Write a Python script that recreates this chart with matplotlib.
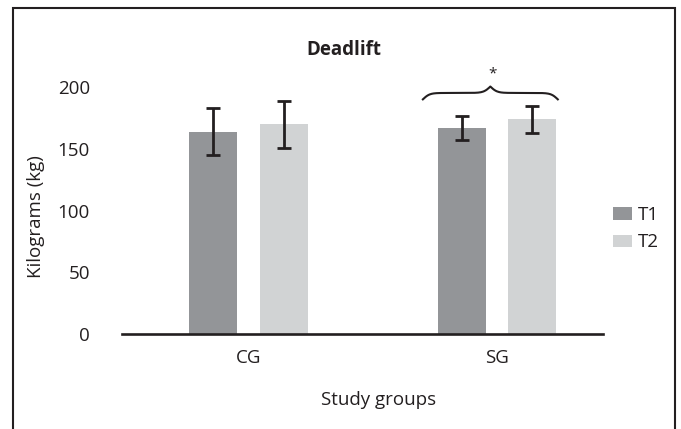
import numpy as np
import matplotlib
matplotlib.use("Agg")
import matplotlib.pyplot as plt
from matplotlib.patches import Rectangle

plt.rcParams['font.family'] = ['Open Sans', 'DejaVu Sans']

groups = ['CG', 'SG']
series = ['T1', 'T2']
t1_mean = [164, 167]
t1_err = [19, 10]
t2_mean = [170, 174]
t2_err = [19, 11]
colors = ['#939598', '#d1d3d4']
ink = '#231f20'

fig = plt.figure(figsize=(6.81, 4.29), dpi=100)
ax = fig.add_axes([0.1791, 0.2214, 0.7064, 0.6327])

x = np.arange(len(groups))
w = 0.193
off = 0.142
ekw = dict(ecolor=ink, elinewidth=2, capsize=5, capthick=2)
ax.bar(x - off, t1_mean, w, yerr=t1_err, color=colors[0], label=series[0], error_kw=ekw)
ax.bar(x + off, t2_mean, w, yerr=t2_err, color=colors[1], label=series[1], error_kw=ekw)

ax.set_xlim(-0.509, 1.427)
ax.set_ylim(0, 220)
ax.set_yticks([0, 50, 100, 150, 200])
ax.set_xticks(x)
ax.set_xticklabels(groups)
ax.tick_params(axis='both', length=0, labelsize=13.5, colors='#231f20')
ax.tick_params(axis='y', pad=23)
ax.tick_params(axis='x', pad=11)
for s in ['top', 'right', 'left']:
    ax.spines[s].set_visible(False)
ax.spines['bottom'].set_linewidth(1.9)
ax.spines['bottom'].set_color(ink)

ax.set_ylabel('Kilograms (kg)', fontsize=13.5, color=ink)
ax.yaxis.set_label_coords(-0.16, 0.433)
fig.text(379 / 681, 1 - 400 / 429, 'Study groups', ha='center', va='center',
         fontsize=13.5, color=ink)
fig.text(343.5 / 681, 1 - 50 / 429, 'Deadlift', ha='center', va='center',
         fontsize=13.5, fontweight='bold', color=ink)

# curly brace over SG
bl, br, by, bh = 0.702, 1.245, 190.2, 10.4
t = np.linspace(0, 1, 201)
half = t[:101]
beta = 40
yh = 1 / (1 + np.exp(-beta * (half - half[0]))) + 1 / (1 + np.exp(-beta * (half - half[-1])))
yy = np.concatenate([yh, yh[-2::-1]])
yy = (yy - yy.min()) / (yy.max() - yy.min())
ax.plot(bl + t * (br - bl), by + yy * bh, color=ink, lw=1.5, clip_on=False)
ax.text(0.982, 210.5, '*', ha='center', va='center', fontsize=11, color=ink)

leg = ax.legend(loc='upper left', bbox_to_anchor=(612.7 / 681, 1 - 206 / 429),
                bbox_transform=fig.transFigure, frameon=False, fontsize=13.5,
                handlelength=1.05, handleheight=0.65, handletextpad=0.3,
                labelspacing=0.5, borderpad=0, borderaxespad=0)
for txt in leg.get_texts():
    txt.set_color(ink)

fig.patches.append(Rectangle((12.5 / 681, -0.1), (675 - 12.5) / 681, 1.1 - 8 / 429,
                             transform=fig.transFigure, fill=False,
                             edgecolor=ink, linewidth=1.5))

fig.savefig('out.png', dpi=100)
